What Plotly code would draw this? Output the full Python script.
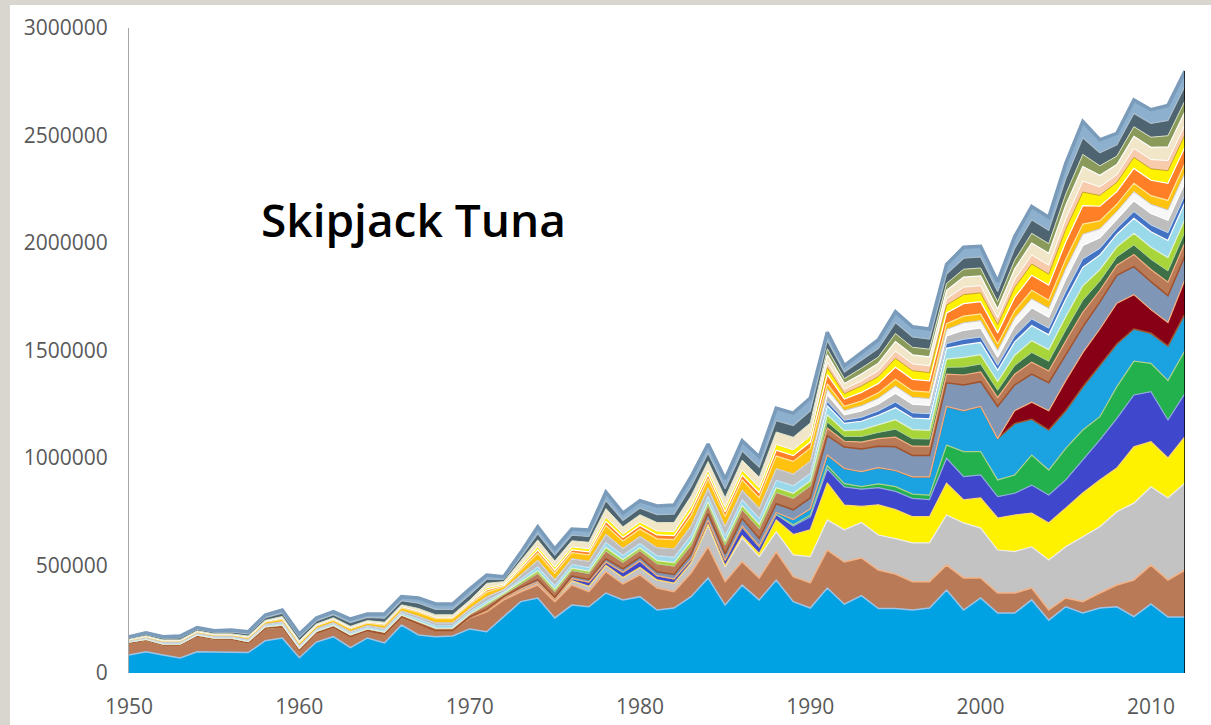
import plotly.graph_objects as go
import numpy as np

years = list(range(1950, 2013))

# values in thousand tonnes, bottom to top of the stack
blue = [84,99,84,70,99,97,97,95,150,163,
        71,144,169,118,163,140,223,177,169,172,
        205,192,262,332,349,256,316,308,372,340,
        355,293,302,355,442,316,409,340,432,332,
        302,395,320,360,300,300,293,302,386,293,
        349,279,279,340,246,308,279,302,308,262,
        321,260,260]
brown = [56,54,46,60,73,61,61,46,59,52,
         36,42,45,51,34,41,37,51,28,25,
         50,93,78,46,60,76,93,70,99,74,
         101,102,76,110,145,109,109,102,132,116,
         117,177,196,175,179,160,132,123,116,149,
         93,93,93,55,47,41,53,70,101,170,
         181,172,219]
gray = [0,0,0,0,0,0,0,0,0,0,
        0,0,0,0,0,0,0,0,0,0,
        3,8,10,12,15,12,20,25,30,30,
        35,38,40,47,100,69,110,99,93,101,
        122,140,150,165,163,165,180,180,233,256,
        232,200,193,192,233,238,302,308,341,358,
        364,382,405]
yellow = [0,0,0,0,0,0,0,0,0,0,
          0,0,0,0,0,0,0,0,0,0,
          0,0,0,0,0,0,0,0,0,0,
          0,0,0,0,5,5,10,15,55,95,
          125,172,115,75,140,135,122,122,148,107,
          140,149,170,157,172,180,203,218,203,262,
          210,186,215]
dkblue = [0,0,0,0,0,0,0,0,0,0,
          0,0,0,0,0,0,0,0,0,0,
          0,0,0,0,0,0,10,20,15,25,
          30,20,20,15,20,25,40,30,25,40,
          60,65,85,80,80,85,85,80,116,108,
          107,99,101,130,130,131,154,186,231,241,
          232,177,202]
green = [0,0,0,0,0,0,0,0,0,0,
         0,0,0,0,0,0,0,0,0,0,
         0,0,0,0,0,0,0,0,0,0,
         0,0,0,0,0,0,0,0,0,5,
         8,15,15,12,18,22,20,20,61,117,
         109,78,85,140,116,147,139,108,148,157,
         132,183,199]
sky = [0,0,0,0,0,0,0,0,0,0,
       0,0,0,0,0,0,0,0,0,0,
       0,0,0,0,0,0,0,0,0,0,
       0,0,0,0,0,0,5,5,10,25,
       30,50,70,70,75,75,80,85,180,190,
       210,192,239,166,186,175,200,238,198,150,
       140,160,170]
darkred = [0,0,0,0,0,0,0,0,0,0,
           0,0,0,0,0,0,0,0,0,0,
           0,0,0,0,0,0,0,0,0,0,
           0,0,0,0,0,0,0,0,0,0,
           0,0,0,0,0,0,0,0,0,0,
           0,0,60,80,90,140,160,170,190,160,
           110,110,160]
slate = [0,0,0,0,0,0,0,0,0,0,
         0,0,0,0,0,0,0,0,0,0,
         2,3,5,8,10,8,12,12,15,15,
         18,18,20,25,30,30,35,35,40,45,
         50,90,100,105,100,110,100,100,110,120,
         115,150,120,130,130,120,120,125,130,130,
         130,125,110]
brown2 = [3,3,4,4,4,4,4,5,6,8,
          7,7,7,8,8,9,10,12,12,12,
          13,19,11,19,30,27,26,28,37,31,
          31,37,39,43,39,42,43,46,53,54,
          56,35,27,32,35,45,43,42,40,46,
          45,41,50,56,55,64,68,54,47,56,
          57,63,62]
dkgreen = [0,0,0,0,0,0,0,0,0,0,
           0,0,0,0,0,0,0,0,0,0,
           0,0,0,0,0,0,0,0,0,0,
           0,0,0,0,0,0,0,0,0,0,
           0,28,22,26,29,37,35,34,32,37,
           37,34,40,45,45,52,56,44,39,45,
           47,52,50]
lime = [0,0,0,0,0,0,0,0,0,0,
        0,0,0,0,0,0,0,0,0,0,
        0,8,5,8,12,11,11,11,16,13,
        13,15,16,18,16,17,18,19,22,23,
        23,34,27,31,35,44,42,41,38,45,
        44,41,48,55,54,62,67,53,46,54,
        56,62,60]
lightblue = [3,4,4,4,4,4,4,5,6,8,
             7,7,7,8,8,9,9,12,12,12,
             13,13,7,13,20,18,18,18,25,21,
             21,24,26,29,26,28,29,30,36,36,
             37,43,34,40,45,56,54,53,50,58,
             57,52,62,70,69,80,86,68,59,70,
             72,80,77]
blue2 = [0,0,0,0,0,0,0,0,0,0,
         0,0,0,0,0,0,0,0,0,0,
         0,0,0,0,0,0,0,0,0,0,
         0,0,0,0,0,0,0,0,0,0,
         0,19,15,18,20,26,24,24,22,26,
         25,23,28,31,31,36,39,31,27,31,
         32,36,35]
gray2 = [3,3,4,4,4,4,4,5,6,8,
         7,7,7,8,8,9,10,12,13,13,
         13,19,11,20,29,27,26,28,37,31,
         32,37,39,43,39,42,44,46,53,54,
         56,32,25,30,32,41,40,39,36,42,
         42,38,46,52,51,59,63,50,43,51,
         53,58,57]
white2 = [0,0,0,0,0,0,0,0,0,0,
          0,0,0,0,0,0,0,0,0,0,
          0,0,0,0,0,0,0,0,0,0,
          0,0,0,0,0,0,0,0,0,0,
          0,26,20,24,27,34,32,32,30,35,
          34,32,37,42,41,48,52,41,36,42,
          43,48,46]
gold = [4,5,6,6,6,6,6,8,9,12,
        11,11,11,12,11,14,14,18,19,19,
        19,21,12,21,32,29,28,30,40,34,
        34,40,42,47,42,45,47,49,58,58,
        60,24,19,22,25,31,30,29,27,31,
        31,29,34,39,38,44,47,37,33,39,
        40,44,43]
orange = [1,2,2,2,2,2,2,3,3,4,
          4,3,4,4,4,5,5,6,6,6,
          7,10,6,10,15,14,13,14,19,16,
          16,18,19,22,19,21,22,23,27,27,
          28,43,34,40,44,56,54,53,50,58,
          57,52,62,70,70,80,86,68,59,69,
          72,80,77]
yellow2 = [0,0,0,0,0,0,0,0,0,0,
           0,0,0,0,0,0,0,0,0,0,
           0,10,6,10,15,14,13,14,19,16,
           16,18,19,22,19,21,22,23,27,27,
           28,32,25,30,32,41,40,38,36,42,
           41,38,46,52,51,59,63,50,43,51,
           53,58,57]
peach = [0,0,0,0,0,0,0,0,0,0,
         0,0,0,0,0,0,0,0,0,0,
         0,0,0,0,0,0,0,0,0,0,
         0,0,0,0,0,0,0,0,0,0,
         0,26,21,24,27,34,32,32,30,35,
         34,32,37,42,42,48,51,40,36,42,
         43,48,46]
cream = [3,3,4,4,4,4,4,5,6,8,
         8,7,7,8,8,9,9,12,12,12,
         13,21,12,21,32,29,29,30,41,34,
         34,40,42,47,42,45,47,49,58,59,
         61,34,27,32,35,45,42,42,39,46,
         45,41,50,56,55,64,68,54,47,56,
         57,63,62]
olive = [0,0,0,0,0,0,0,0,0,0,
         0,0,0,0,0,0,0,0,0,0,
         0,0,0,0,0,0,0,0,0,0,
         0,0,0,0,0,0,0,0,0,0,
         0,28,22,27,29,37,35,35,32,37,
         37,34,40,45,45,52,56,44,39,45,
         47,52,50]
darkslate = [6,7,8,9,8,8,9,10,12,15,
             15,14,14,17,15,19,19,25,25,25,
             26,19,11,19,29,27,26,27,37,30,
             31,37,39,43,39,42,43,46,53,54,
             56,39,31,36,40,51,48,47,44,51,
             51,47,55,63,62,71,77,61,53,62,
             64,71,69]
steel = [5,7,7,9,7,7,9,10,13,15,
         15,14,14,17,15,19,19,24,25,25,
         26,20,12,21,32,29,29,30,40,34,
         34,40,42,47,42,45,47,49,58,58,
         60,38,30,36,40,50,47,47,44,51,
         50,46,55,62,61,71,76,60,53,62,
         64,70,69]

series = [
    (blue, "#00A2E3", "#9DC3E6", 1.5),
    (brown, "#B97A57", "#F4B183", 1.5),
    (gray, "#C3C3C3", "#EDEDED", 1.2),
    (yellow, "#FFF200", "#FFD966", 1.2),
    (dkblue, "#3F48CC", "#8FAADC", 1.2),
    (green, "#22B14C", "#A9D18E", 1.2),
    (sky, "#1AA3E0", "#9C5B34", 1.5),
    (darkred, "#880015", "#F4B183", 1.2),
    (slate, "#7F96B6", "#A0522D", 1.5),
    (brown2, "#B97A57", "#F4B183", 1.2),
    (dkgreen, "#3E7048", "#A9D18E", 1.0),
    (lime, "#A8D63A", "#E2F0D9", 1.2),
    (lightblue, "#99D9EA", "#FFFFFF", 1.2),
    (blue2, "#4472C4", "#BDD7EE", 1.0),
    (gray2, "#BDBDBD", "#FFFFFF", 1.2),
    (white2, "#F7F7F7", "#C9C9C9", 1.0),
    (gold, "#FFC20E", "#FFE699", 1.2),
    (orange, "#FF7F27", "#FFFFFF", 1.2),
    (yellow2, "#FFF200", "#C9A227", 1.0),
    (peach, "#F8CBAD", "#FFFFFF", 1.0),
    (cream, "#F2E6C8", "#FFFFFF", 1.2),
    (olive, "#8A9A5B", "#D9E1C2", 1.0),
    (darkslate, "#4E6470", "#A9BCC9", 1.2),
    (steel, "#8DB0CF", "#7A9BBA", 3.5),
]
for s in series:
    assert len(s[0]) == len(years)

fig = go.Figure()
for vals, fillc, linec, lw in series:
    fig.add_trace(go.Scatter(
        x=years, y=np.array(vals) * 1000, stackgroup="one", mode="lines",
        fillcolor=fillc, line=dict(color=linec, width=lw, shape="linear"),
        showlegend=False, hoverinfo="skip"))

total_2012 = sum(s[0][-1] for s in series) * 1000

fig.add_shape(type="line", xref="x", yref="y", x0=2012, x1=2012, y0=0, y1=total_2012,
              line=dict(color="#000000", width=1.5), layer="above")

# white card over the textured page
fig.add_shape(type="rect", xref="paper", yref="paper",
              x0=(10 - 129) / 1056, x1=1.06, y0=-0.1, y1=(673 - 5) / 645,
              fillcolor="white", line=dict(width=0), layer="below")

fig.add_annotation(text="Skipjack Tuna", xref="paper", yref="paper",
                   x=(413 - 129) / 1056, y=(673 - 219) / 645,
                   xanchor="center", yanchor="middle", showarrow=False,
                   font=dict(family="Open Sans", size=46, weight=600, color="#000000"))

tickfont = dict(family="Open Sans", size=21, color="#595959")
fig.update_layout(
    width=1211, height=725,
    margin=dict(l=129, r=26, t=28, b=52),
    paper_bgcolor="#d9d6cf", plot_bgcolor="rgba(0,0,0,0)",
    xaxis=dict(range=[1950, 2012], tickvals=[1950, 1960, 1970, 1980, 1990, 2000, 2010],
               showgrid=False, zeroline=False, showline=False, ticks="",
               tickfont=tickfont, ticklabelstandoff=19, automargin=False),
    yaxis=dict(range=[0, 3000000], tickvals=[0, 500000, 1000000, 1500000, 2000000, 2500000, 3000000],
               ticktext=["0", "500000", "1000000", "1500000", "2000000", "2500000", "3000000"],
               showgrid=False, zeroline=False, showline=True, linecolor="#A6A6A6", linewidth=1,
               ticks="", tickfont=tickfont, ticklabelstandoff=16, automargin=False),
)
fig.write_html("out.html", config={"displayModeBar": False},
               post_script="document.body.style.margin='0px';")
